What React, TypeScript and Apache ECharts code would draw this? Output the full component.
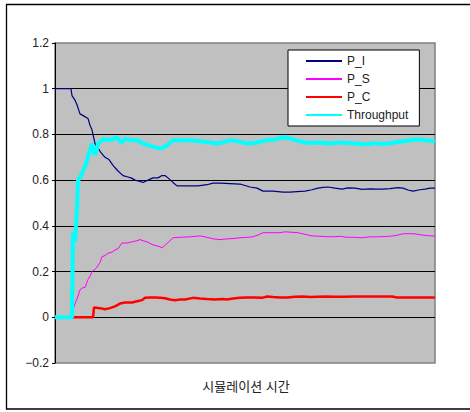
import React, { useEffect, useRef } from "react";
import * as echarts from "echarts";

// Simulation samples: [time step, probability]
const seriesNames = ["P_I", "P_S", "P_C", "Throughput"];

const pI: [number, number][] = [
  [0, 1], [16, 1], [17, 0.97], [20, 0.95], [22, 0.93], [25, 0.89], [29, 0.88], [33, 0.87],
  [35, 0.84], [37, 0.82], [40, 0.76], [43, 0.74], [46, 0.72], [50, 0.7], [54, 0.69],
  [58, 0.665], [63, 0.64], [68, 0.62], [72, 0.615], [76, 0.61], [80, 0.6], [84, 0.595],
  [88, 0.59], [93, 0.6], [98, 0.61], [103, 0.61], [107, 0.62], [110, 0.62], [113, 0.61],
  [118, 0.59], [122, 0.575], [127, 0.575], [135, 0.575], [143, 0.575], [152, 0.58],
  [158, 0.587], [165, 0.587], [175, 0.585], [185, 0.583], [195, 0.57], [202, 0.565],
  [208, 0.552], [218, 0.552], [228, 0.548], [235, 0.548], [242, 0.55], [250, 0.552],
  [257, 0.558], [263, 0.565], [268, 0.568], [273, 0.57], [280, 0.565], [287, 0.561],
  [293, 0.566], [300, 0.565], [307, 0.56], [315, 0.562], [322, 0.561], [327, 0.561],
  [335, 0.563], [343, 0.567], [348, 0.565], [353, 0.557], [358, 0.552], [365, 0.558],
  [370, 0.561], [375, 0.565], [380, 0.565],
];

const pS: [number, number][] = [
  [0, 0], [17, 0], [18, 0.035], [20, 0.06], [22, 0.08], [25, 0.12], [28, 0.13], [30, 0.13],
  [33, 0.165], [35, 0.18], [37, 0.2], [40, 0.21], [42, 0.22], [45, 0.24], [47, 0.265],
  [50, 0.27], [53, 0.28], [57, 0.285], [60, 0.295], [63, 0.3], [67, 0.325], [72, 0.325],
  [77, 0.33], [82, 0.335], [85, 0.34], [88, 0.335], [92, 0.33], [98, 0.317], [104, 0.31],
  [107, 0.304], [110, 0.315], [115, 0.335], [118, 0.348], [125, 0.35], [135, 0.352],
  [145, 0.356], [152, 0.35], [158, 0.343], [165, 0.34], [172, 0.343], [180, 0.345],
  [185, 0.348], [192, 0.35], [198, 0.352], [203, 0.36], [208, 0.37], [215, 0.37],
  [225, 0.37], [230, 0.374], [237, 0.372], [243, 0.37], [248, 0.365], [253, 0.36],
  [257, 0.356], [263, 0.355], [270, 0.353], [277, 0.352], [285, 0.354], [292, 0.35],
  [300, 0.35], [307, 0.348], [315, 0.352], [322, 0.352], [330, 0.353], [338, 0.356],
  [343, 0.36], [348, 0.365], [353, 0.366], [360, 0.365], [367, 0.36], [373, 0.357],
  [380, 0.355],
];

const pC: [number, number][] = [
  [0, 0], [38, 0], [39, 0.043], [45, 0.04], [50, 0.035], [55, 0.04], [60, 0.048],
  [65, 0.06], [70, 0.065], [77, 0.065], [82, 0.07], [87, 0.075], [90, 0.085], [95, 0.087],
  [100, 0.087], [105, 0.085], [110, 0.083], [115, 0.078], [120, 0.075], [125, 0.078],
  [130, 0.078], [138, 0.085], [145, 0.082], [152, 0.08], [160, 0.078], [168, 0.08],
  [172, 0.078], [178, 0.082], [185, 0.085], [192, 0.087], [200, 0.087], [207, 0.085],
  [212, 0.091], [218, 0.089], [225, 0.087], [232, 0.087], [240, 0.09], [248, 0.091],
  [255, 0.089], [262, 0.09], [270, 0.091], [280, 0.09], [290, 0.09], [300, 0.091],
  [310, 0.091], [320, 0.091], [330, 0.091], [337, 0.091], [342, 0.087], [350, 0.087],
  [360, 0.087], [370, 0.087], [380, 0.087],
];

const throughput: [number, number][] = [
  [0, 0], [17, 0], [18, 0.37], [20, 0.33], [22, 0.48], [23, 0.6], [25, 0.61], [28, 0.64],
  [30, 0.66], [33, 0.7], [35, 0.73], [37, 0.76], [38, 0.74], [40, 0.71], [42, 0.74],
  [43, 0.76], [46, 0.77], [48, 0.78], [52, 0.775], [55, 0.78], [57, 0.775], [60, 0.785],
  [62, 0.787], [65, 0.77], [67, 0.765], [70, 0.78], [72, 0.78], [75, 0.775], [80, 0.775],
  [85, 0.77], [88, 0.76], [92, 0.755], [95, 0.75], [100, 0.745], [103, 0.74], [107, 0.74],
  [110, 0.748], [113, 0.755], [118, 0.775], [125, 0.775], [135, 0.775], [145, 0.77],
  [155, 0.765], [162, 0.76], [168, 0.765], [175, 0.775], [185, 0.768], [192, 0.76],
  [200, 0.762], [205, 0.768], [212, 0.775], [220, 0.778], [228, 0.787], [233, 0.785],
  [240, 0.775], [250, 0.765], [258, 0.762], [265, 0.765], [273, 0.76], [280, 0.763],
  [287, 0.765], [293, 0.762], [300, 0.76], [307, 0.757], [313, 0.758], [320, 0.762],
  [327, 0.758], [333, 0.76], [340, 0.765], [348, 0.77], [353, 0.772], [360, 0.778],
  [366, 0.777], [372, 0.774], [380, 0.77],
];

const xAxisTitle = "시뮬레이션 시간";
const timeMax = 380;
const yMin = -0.2;
const yMax = 1.2;
const yStep = 0.2;

const FONT = "'Liberation Sans', 'Noto Sans CJK KR', sans-serif";

export default function App() {
  const ref = useRef<HTMLDivElement>(null);

  useEffect(() => {
    if (!ref.current) return;
    const chart = echarts.init(ref.current, undefined, { renderer: "svg" });

    const lineSeries = (
      name: string,
      data: [number, number][],
      color: string,
      width: number
    ) => ({
      name,
      type: "line",
      data,
      symbol: "none",
      showSymbol: false,
      lineStyle: { color, width },
      itemStyle: { color },
      z: 3,
    });

    chart.setOption({
      animation: false,
      backgroundColor: "#ffffff",
      textStyle: { fontFamily: FONT },
      grid: {
        left: 55,
        top: 43,
        right: 35,
        bottom: 49,
        show: true,
        backgroundColor: "#c0c0c0",
        borderColor: "#808080",
        borderWidth: 1.5,
      },
      legend: {
        data: seriesNames,
        orient: "vertical",
        left: 288,
        top: 50,
        backgroundColor: "#ffffff",
        borderColor: "#000000",
        borderWidth: 1,
        borderRadius: 0,
        padding: [5, 11, 5, 17],
        itemWidth: 36,
        itemHeight: 12,
        itemGap: 6,
        itemStyle: { opacity: 0 },
        textStyle: { fontFamily: FONT, fontSize: 12, color: "#222" },
      },
      xAxis: {
        type: "value",
        min: 0,
        max: timeMax,
        axisLine: { show: false },
        axisTick: { show: false },
        axisLabel: { show: false },
        splitLine: { show: false },
      },
      yAxis: {
        type: "value",
        min: yMin,
        max: yMax,
        interval: yStep,
        axisLine: { show: true, lineStyle: { color: "#000", width: 1 } },
        axisTick: { show: true, length: 3, inside: false, lineStyle: { color: "#000" } },
        axisLabel: {
          margin: 6,
          color: "#222",
          fontSize: 12,
          fontFamily: FONT,
          formatter: (v: number) => {
            const r = Math.round(v * 10) / 10;
            return r < 0 ? "\u2212" + String(-r) : String(r);
          },
        },
        splitLine: {
          show: true,
          showMinLine: false,
          showMaxLine: false,
          lineStyle: { color: "#000", width: 1 },
        },
      },
      graphic: [
        {
          type: "rect",
          shape: { x: 6.5, y: 4.5, width: 480, height: 404.5 },
          style: { fill: "none", stroke: "#000", lineWidth: 1.3 },
          silent: true,
        },
        {
          type: "text",
          x: 246,
          y: 386,
          style: {
            text: xAxisTitle,
            fontFamily: FONT,
            fontSize: 13,
            fill: "#222",
            textAlign: "center",
            textVerticalAlign: "middle",
          },
        },
      ],
      series: [
        lineSeries("P_I", pI, "#000080", 1.2),
        lineSeries("P_S", pS, "#ff00ff", 1),
        lineSeries("P_C", pC, "#ff0000", 2.5),
        lineSeries("Throughput", throughput, "#00ffff", 4),
      ],
    });

    return () => chart.dispose();
  }, []);

  return (
    <div
      ref={ref}
      style={{ position: "fixed", left: 0, top: 0, width: 470, height: 412 }}
    />
  );
}
